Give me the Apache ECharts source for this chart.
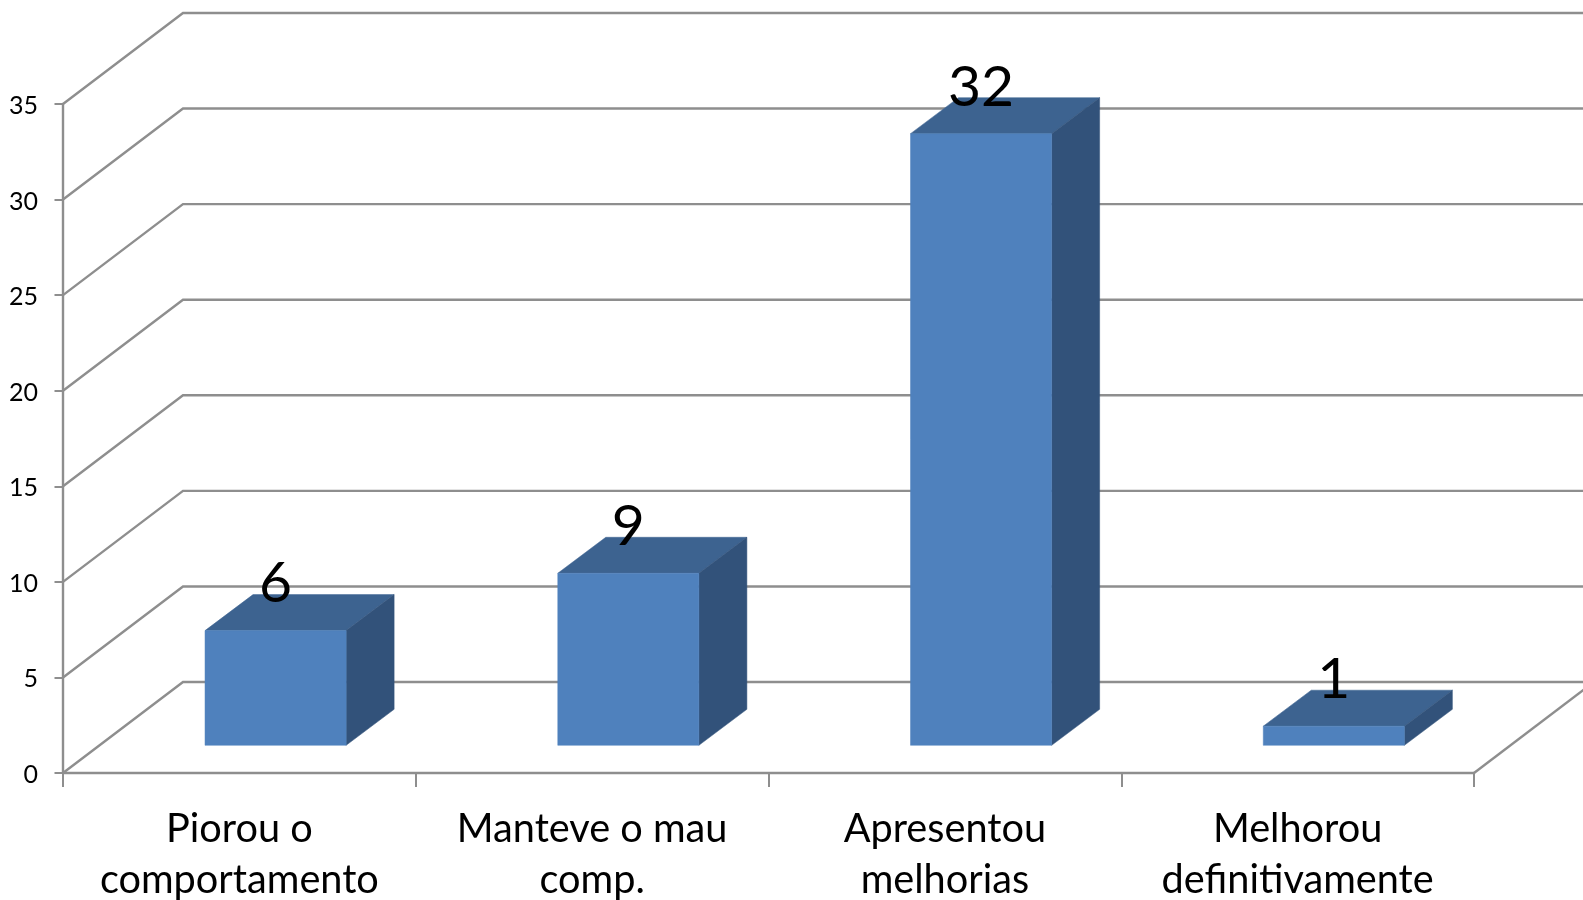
<!DOCTYPE html>
<html>
<head>
<meta charset="utf-8">
<script src="https://cdn.jsdelivr.net/npm/echarts@6/dist/echarts.min.js"></script>
<style>html,body{margin:0;padding:0;background:#fff}#c{width:1583px;height:900px}</style>
</head>
<body>
<div id="c"></div>
<script>
const categories = ['Piorou o\ncomportamento', 'Manteve o mau\ncomp.', 'Apresentou\nmelhorias', 'Melhorou\ndefinitivamente'];
const values = [6, 9, 32, 1];
const yTicks = [0, 5, 10, 15, 20, 25, 30, 35];

const AXIS = '#8e8e8e', FRONT = '#4f81bd', TOP = '#3d6390', SIDE = '#32527a';
const FONT = 'Lato, "Open Sans", sans-serif';
const WALL_DX = 120, WALL_DY = 91;
const BAR_DX = 48, BAR_DY = 36, BAR_SHIFT_X = 36.2, BAR_SHIFT_Y = 27.7, BAR_FRAC = 0.4;

function poly(points, fill) {
  return { type: 'polygon', shape: { points }, style: { fill, stroke: fill, lineWidth: 0.5 } };
}

function renderWall(params, api) {
  const band = api.size([1, 0])[0];
  const v = api.value(1);
  const p = api.coord([0, v]);
  const x0 = p[0] - band / 2;
  const xEnd = x0 + band * categories.length;
  const style = { stroke: AXIS, lineWidth: 2.4, fill: null };
  const children = [{
    type: 'polyline',
    shape: { points: [[x0, p[1]], [x0 + WALL_DX, p[1] - WALL_DY], [xEnd + WALL_DX, p[1] - WALL_DY]] },
    style
  }];
  if (v === 0) {
    children.push({ type: 'line', shape: { x1: xEnd, y1: p[1], x2: xEnd + WALL_DX, y2: p[1] - WALL_DY }, style });
  }
  return { type: 'group', children };
}

function renderBar(params, api) {
  const band = api.size([1, 0])[0];
  const i = api.value(0), v = api.value(1);
  const base = api.coord([i, 0]), top = api.coord([i, v]);
  const w = band * BAR_FRAC;
  const l = base[0] + BAR_SHIFT_X - w / 2, r = l + w;
  const yb = base[1] - BAR_SHIFT_Y, yt = top[1] - BAR_SHIFT_Y;
  return {
    type: 'group',
    children: [
      poly([[l, yt], [r, yt], [r + BAR_DX, yt - BAR_DY], [l + BAR_DX, yt - BAR_DY]], TOP),
      poly([[r, yb], [r, yt], [r + BAR_DX, yt - BAR_DY], [r + BAR_DX, yb - BAR_DY]], SIDE),
      poly([[l, yb], [r, yb], [r, yt], [l, yt]], FRONT),
      {
        type: 'text', z2: 10,
        style: {
          text: String(v), x: (l + r) / 2, y: yt - 18,
          fill: '#000', font: '57px ' + FONT, align: 'center', verticalAlign: 'bottom'
        }
      }
    ]
  };
}

const chart = echarts.init(document.getElementById('c'), null, { renderer: 'canvas' });
chart.setOption({
  animation: false,
  backgroundColor: '#fff',
  grid: { left: 63, right: 109, top: 104, bottom: 127, containLabel: false, outerBoundsMode: 'none' },
  xAxis: {
    type: 'category',
    data: categories,
    axisLine: { lineStyle: { color: AXIS, width: 2.4 } },
    axisTick: { show: true, length: 14, alignWithLabel: false, lineStyle: { color: AXIS, width: 2 } },
    axisLabel: { color: '#000', fontFamily: FONT, fontSize: 39.7, lineHeight: 51, margin: 31, interval: 0 }
  },
  yAxis: {
    type: 'value', min: 0, max: 35, interval: 5,
    axisLine: { show: true, lineStyle: { color: AXIS, width: 2.4 } },
    axisTick: { show: true, length: 8.5, lineStyle: { color: AXIS, width: 2 } },
    axisLabel: {
      margin: 25,
      formatter: '{t|{value}}',
      rich: { t: { color: '#000', fontFamily: FONT, fontSize: 25, padding: [4, 0, 0, 0] } }
    },
    splitLine: { show: false }
  },
  series: [
    { type: 'custom', name: 'walls', renderItem: renderWall, clip: false, silent: true, z: 1,
      data: yTicks.map(v => [0, v]) },
    { type: 'custom', name: 'bars', renderItem: renderBar, clip: false, z: 5,
      data: values.map((v, i) => [i, v]) }
  ]
});
</script>
</body>
</html>
